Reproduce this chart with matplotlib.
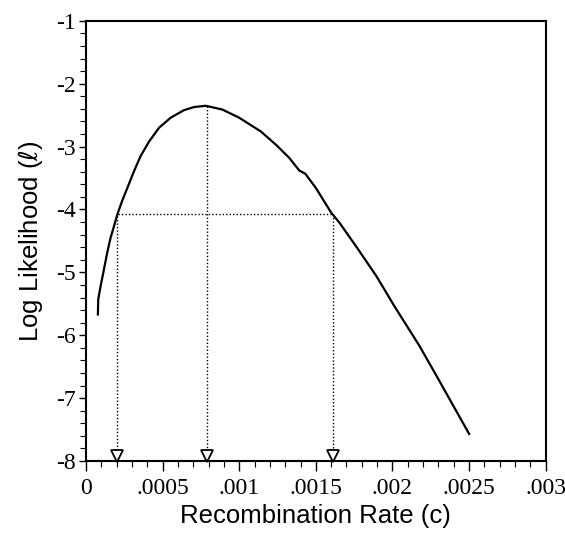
import matplotlib.pyplot as plt
from matplotlib.ticker import MultipleLocator

# Log likelihood curve
rate = [0.0000784, 0.0000806, 0.000096, 0.000118, 0.000139, 0.000161,
        0.000183, 0.000205, 0.000237, 0.00027, 0.000314, 0.000357, 0.000412,
        0.000477, 0.000553, 0.00064, 0.000706, 0.000782, 0.00089, 0.001,
        0.001142, 0.00124, 0.001327, 0.001392, 0.001431, 0.001501, 0.0016,
        0.001654, 0.001775, 0.001895, 0.002013, 0.002176, 0.002288, 0.0025]
loglik = [-5.67, -5.43, -5.22, -4.95, -4.69, -4.45,
          -4.27, -4.08, -3.86, -3.66, -3.39, -3.15, -2.92,
          -2.70, -2.54, -2.42, -2.37, -2.35, -2.41, -2.54,
          -2.76, -2.97, -3.18, -3.38, -3.43, -3.66, -4.05,
          -4.21, -4.63, -5.06, -5.54, -6.17, -6.65, -7.57]

# support interval and maximum
lower_c, mle_c, upper_c = 0.0002, 0.00079, 0.00161
lower_l, peak_l = -4.1, -2.35
cut_l = -4.07
cut_start, cut_end = 0.00021, 0.00161

xticks = [0, 0.0005, 0.001, 0.0015, 0.002, 0.0025, 0.003]
xticklabels = ['0', '.0005', '.001', '.0015', '.002', '.0025', '.003']
yticks = [-8, -7, -6, -5, -4, -3, -2, -1]
yticklabels = ['-8', '-7', '-6', '-5', '-4', '-3', '-2', '-1']

fig = plt.figure(figsize=(5.65, 5.36), dpi=100)
ax = fig.add_axes([0.152, 0.140, 0.814, 0.821])

ax.plot(rate, loglik, color='black', linewidth=1.6)

dot = (0, (1, 1.5))
ax.plot([cut_start, cut_end], [cut_l, cut_l], color='black', linewidth=1, linestyle=dot)
for c, top in [(lower_c, lower_l), (mle_c, peak_l), (upper_c, cut_l)]:
    ax.plot([c, c], [top, -7.86], color='black', linewidth=1, linestyle=dot)

ax.plot([lower_c, mle_c, upper_c], [-7.92] * 3, linestyle='none', marker='v',
        markersize=8, markerfacecolor='white', markeredgecolor='black',
        markeredgewidth=1.3, clip_on=False, zorder=5)

ax.set_xlim(0, 0.003)
ax.set_ylim(-8, -1)
ax.set_xticks(xticks)
ax.set_xticklabels(xticklabels, family='Liberation Serif', fontsize=17)
ax.set_yticks(yticks)
ax.set_yticklabels(yticklabels, family='Liberation Serif', fontsize=17)
ax.xaxis.set_minor_locator(MultipleLocator(0.0001))
ax.yaxis.set_minor_locator(MultipleLocator(0.2))
ax.tick_params(which='major', direction='out', length=7, width=1, pad=2)
ax.tick_params(which='minor', direction='out', length=4, width=0.8)
ax.tick_params(axis='y', which='major', length=5)
ax.tick_params(axis='x', which='major', pad=5)

for s in ax.spines.values():
    s.set_linewidth(1.5)

ax.set_xlabel('Recombination Rate (c)', family=['Liberation Sans', 'DejaVu Sans'],
              fontsize=18.5, labelpad=4)
ax.set_ylabel('Log Likelihood ($\\ell$)', family=['Liberation Sans', 'DejaVu Sans'],
              fontsize=18.5, labelpad=8)

fig.savefig('out.png', dpi=100)
